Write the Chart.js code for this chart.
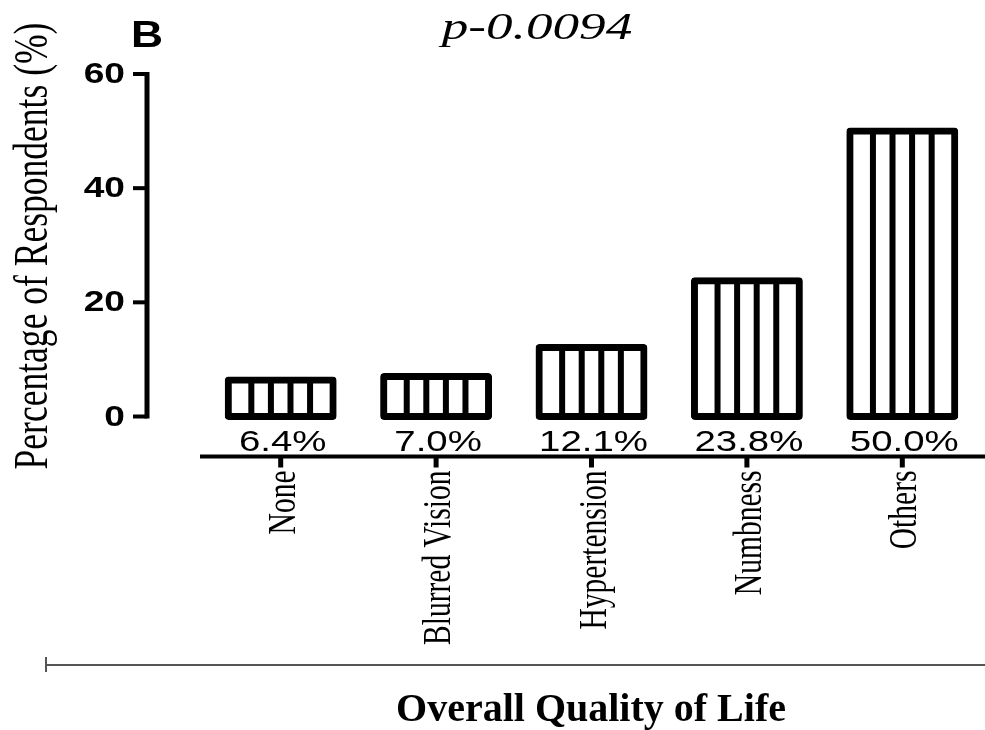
<!DOCTYPE html>
<html>
<head>
<meta charset="utf-8">
<script src="https://cdn.jsdelivr.net/npm/chart.js@4.4.1/dist/chart.umd.min.js"></script>
<style>
  html, body { margin: 0; padding: 0; background: #fff; }
  #wrap { width: 985px; height: 730px; }
</style>
</head>
<body>
<div id="wrap"><canvas id="chart" width="985" height="730"></canvas></div>
<script>
// data
const categories = ["None", "Blurred Vision", "Hypertension", "Numbness", "Others"];
const percentages = [6.4, 7.0, 12.1, 23.8, 50.0];
const valueLabels = ["6.4%", "7.0%", "12.1%", "23.8%", "50.0%"];
const yTicks = [0, 20, 40, 60];
const panelLetter = "B";
const pValueText = "p-0.0094";
const yTitle = "Percentage of Respondents (%)";
const xTitle = "Overall Quality of Life";

// draws text with optional rotation and horizontal squeeze/stretch
function drawText(ctx, text, x, y, font, align, baseline, sx, angle) {
    ctx.save();
    ctx.translate(x, y);
    if (angle) ctx.rotate(angle);
    ctx.scale(sx, 1);
    ctx.font = font;
    ctx.textAlign = align;
    ctx.textBaseline = baseline;
    ctx.fillStyle = "#000";
    ctx.fillText(text, 0, 0);
    ctx.restore();
}

const BORDER = 7;

const stripes = {
    id: "stripes",
    afterDatasetsDraw(chart) {
        const ctx = chart.ctx;
        chart.getDatasetMeta(0).data.forEach((bar) => {
            // bar is inflated by BORDER/2 on each side, so the inner part starts at edge + BORDER/2
            const left = bar.x - bar.width / 2 + BORDER / 2;
            const inner = bar.width - BORDER;
            ctx.save();
            ctx.fillStyle = "#000";
            for (let k = 1; k < 5; k++) {
                const lx = left + (inner * k) / 5;
                ctx.fillRect(lx - 3, bar.y, 6, bar.base - bar.y);
            }
            ctx.restore();
        });
    },
};

const axesAndText = {
    id: "axesAndText",
    afterDraw(chart) {
        const ctx = chart.ctx;
        const xs = chart.scales.x;
        const ys = chart.scales.y;
        const area = chart.chartArea;

        // y axis
        const axX = 147;
        ctx.save();
        ctx.fillStyle = "#000";
        ctx.fillRect(axX - 2.5, ys.getPixelForValue(60) - 2, 5, ys.getPixelForValue(0) - ys.getPixelForValue(60) + 4);
        yTicks.forEach((t) => {
            const py = ys.getPixelForValue(t);
            ctx.fillRect(133, py - 2, axX - 133, 4);
            drawText(ctx, String(t), 125, py + 1, "bold 29px 'Liberation Sans', Arial, sans-serif", "right", "middle", 1.28, 0);
        });

        // category axis, drawn a little below the bar base
        const axY = area.bottom + 40;
        ctx.fillRect(200, axY - 2, 985 - 200, 4);
        categories.forEach((c, i) => {
            const px = xs.getPixelForValue(i);
            ctx.fillRect(px - 2.5, axY, 5, 11);
            drawText(ctx, c, px + 14, axY + 14, "41px 'Liberation Serif', 'Times New Roman', serif", "right", "alphabetic", 0.72, -Math.PI / 2);
        });

        // value labels under each bar
        const meta = chart.getDatasetMeta(0);
        valueLabels.forEach((lbl, i) => {
            const bar = meta.data[i];
            drawText(ctx, lbl, bar.x + 2, area.bottom + 34, "30px 'Liberation Sans', Arial, sans-serif", "center", "alphabetic", 1.28, 0);
        });

        // outer bracket line
        ctx.fillStyle = "#555";
        ctx.fillRect(46, 664, 985 - 46, 2);
        ctx.fillRect(45, 657, 2, 15);

        // titles
        drawText(ctx, yTitle, 47, (22 + 470) / 2, "48px 'Liberation Serif', 'Times New Roman', serif", "center", "alphabetic", 0.74, -Math.PI / 2);
        drawText(ctx, xTitle, 591, 721, "bold 40px 'Liberation Serif', 'Times New Roman', serif", "center", "alphabetic", 1, 0);
        drawText(ctx, pValueText, 537, 39, "italic 38px 'Liberation Serif', 'Times New Roman', serif", "center", "alphabetic", 1.4, 0);
        drawText(ctx, panelLetter, 131, 47, "bold 37px 'Liberation Sans', Arial, sans-serif", "left", "alphabetic", 1.2, 0);
        ctx.restore();
    },
};

const ctx = document.getElementById("chart").getContext("2d");
new Chart(ctx, {
    type: "bar",
    data: {
        labels: categories,
        datasets: [
            {
                data: percentages,
                backgroundColor: "#fff",
                borderColor: "#000",
                borderWidth: BORDER,
                borderSkipped: false,
                borderRadius: 4,
                inflateAmount: BORDER / 2,
                barPercentage: 0.675,
                categoryPercentage: 1,
                clip: false,
            },
        ],
    },
    options: {
        responsive: false,
        animation: false,
        layout: { padding: { left: 203, right: 5, top: 74, bottom: 313.5 } },
        plugins: { legend: { display: false }, tooltip: { enabled: false } },
        scales: {
            x: { display: false },
            y: { display: false, min: 0, max: 60 },
        },
    },
    plugins: [stripes, axesAndText],
});
</script>
</body>
</html>
